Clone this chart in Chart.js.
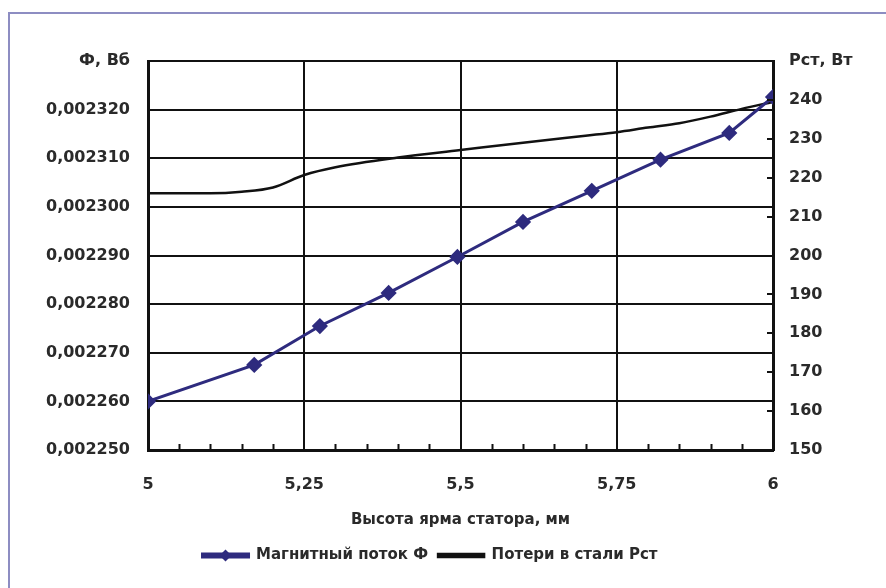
<!DOCTYPE html>
<html>
<head>
<meta charset="utf-8">
<title>Магнитный поток и потери в стали</title>
<script src="https://cdn.jsdelivr.net/npm/chart.js@4.4.1/dist/chart.umd.min.js"></script>
<style>
  html, body { margin: 0; padding: 0; background: #fff; }
  #wrap { position: relative; width: 886px; height: 588px; overflow: hidden; }
  #frame {
    position: absolute; left: 8px; top: 12px; width: 900px; height: 600px;
    border-left: 2px solid #8d8dc2; border-top: 2px solid #8d8dc2;
  }
  #fluxChart { position: absolute; left: 0; top: 0; }
</style>
</head>
<body>
<div id="wrap">
  <div id="frame"></div>
  <canvas id="fluxChart" width="886" height="588"></canvas>
</div>
<script>
/* Высота ярма статора vs магнитный поток / потери в стали
 * -------------------------------------------------------
 * values
 */
'use strict';

var fluxX = [5, 5.17, 5.275, 5.385, 5.495, 5.6, 5.71, 5.82, 5.93, 6];
var fluxY = [0.002260, 0.0022675, 0.0022755, 0.0022823, 0.0022897, 0.0022969, 0.0023033, 0.0023097, 0.0023152, 0.0023226];

var lossX = [5, 5.1, 5.15, 5.2, 5.25, 5.3, 5.4, 5.5, 5.6, 5.7, 5.75, 5.8, 5.85, 5.9, 5.95, 6];
var lossY = [216.0, 216.0, 216.4, 217.5, 220.7, 222.7, 225.2, 227.1, 229.0, 230.8, 231.7, 232.9, 234.0, 235.7, 237.7, 239.5];

var seriesNames = ['Магнитный поток Ф', 'Потери в стали Рст'];
var xTitle = 'Высота ярма статора, мм';
var leftUnit = 'Ф, Вб';
var rightUnit = 'Рст, Вт';

function pairs(xs, ys) {
  return xs.map(function (x, i) { return { x: x, y: ys[i] }; });
}

function isQuarter(v) {
  return Math.abs(v * 4 - Math.round(v * 4)) < 1e-6;
}

var fluxColor = '#2e2b7e';
var ink = '#111111';

Chart.defaults.font.family = "'DejaVu Sans', sans-serif";
Chart.defaults.font.weight = 'bold';
Chart.defaults.font.size = 16;
Chart.defaults.color = '#2a2a2a';

// small tick marks pointing into the plot (x minor steps, right axis)
var innerTicks = {
  id: 'innerTicks',
  afterDraw: function (chart) {
    var c = chart.ctx;
    var area = chart.chartArea;
    var xs = chart.scales.x;
    var ys = chart.scales.y1;
    c.save();
    c.strokeStyle = ink;
    c.lineWidth = 2;
    c.beginPath();
    xs.ticks.forEach(function (t) {
      if (isQuarter(t.value)) return;
      var px = Math.round(xs.getPixelForValue(t.value)) + 0.5;
      c.moveTo(px, area.bottom);
      c.lineTo(px, area.bottom - 6);
    });
    ys.ticks.forEach(function (t) {
      if (t.value <= ys.min || t.value >= ys.max) return;
      var py = Math.round(ys.getPixelForValue(t.value));
      c.moveTo(area.right, py);
      c.lineTo(area.right - 6, py);
    });
    c.stroke();

    // diamond on the first legend sample
    var hb = chart.legend && chart.legend.legendHitBoxes[0];
    if (hb) {
      var bw = chart.legend.options.labels.boxWidth;
      var cx = hb.left + bw / 2;
      var cy = hb.top + hb.height / 2;
      c.fillStyle = fluxColor;
      c.beginPath();
      c.moveTo(cx, cy - 6);
      c.lineTo(cx + 6, cy);
      c.lineTo(cx, cy + 6);
      c.lineTo(cx - 6, cy);
      c.closePath();
      c.fill();
    }
    c.restore();
  }
};

new Chart(document.getElementById('fluxChart'), {
  type: 'line',
  data: {
    datasets: [
      {
        label: seriesNames[0],
        data: pairs(fluxX, fluxY),
        yAxisID: 'y',
        borderColor: fluxColor,
        backgroundColor: fluxColor,
        borderWidth: 3,
        pointStyle: 'rectRot',
        pointRadius: 6,
        pointBackgroundColor: fluxColor,
        pointBorderColor: fluxColor,
        tension: 0
      },
      {
        label: seriesNames[1],
        data: pairs(lossX, lossY),
        yAxisID: 'y1',
        borderColor: ink,
        backgroundColor: ink,
        borderWidth: 2.5,
        pointRadius: 0,
        cubicInterpolationMode: 'monotone'
      }
    ]
  },
  options: {
    responsive: false,
    animation: false,
    layout: { padding: { top: 61, left: 0, right: 26, bottom: 15 } },
    plugins: {
      tooltip: { enabled: false },
      legend: {
        position: 'bottom',
        labels: {
          boxWidth: 46,
          boxHeight: 3,
          padding: 10,
          color: '#2a2a2a',
          font: { size: 15, weight: 'bold' }
        }
      }
    },
    scales: {
      x: {
        type: 'linear',
        min: 5,
        max: 6,
        afterFit: function (s) { s.height = 88; },
        ticks: {
          stepSize: 0.05,
          autoSkip: false,
          maxRotation: 0,
          padding: 25,
          callback: function (v) {
            return isQuarter(v) ? String(Math.round(v * 100) / 100).replace('.', ',') : '';
          }
        },
        grid: {
          drawTicks: false,
          lineWidth: 2,
          color: function (ctx) {
            return ctx.tick && isQuarter(ctx.tick.value) ? ink : 'rgba(0,0,0,0)';
          }
        },
        border: { color: ink, width: 3 },
        title: {
          display: true,
          text: xTitle,
          color: '#2a2a2a',
          font: { size: 15, weight: 'bold' },
          padding: { top: 0, bottom: 9 }
        }
      },
      y: {
        position: 'left',
        min: 0.00225,
        max: 0.00233,
        afterFit: function (s) { s.width = 148; },
        ticks: {
          stepSize: 0.00001,
          padding: 18,
          callback: function (v) {
            if (Math.abs(v - 0.00233) < 1e-9) return leftUnit;
            return v.toFixed(6).replace('.', ',');
          }
        },
        grid: { drawTicks: false, lineWidth: 2, color: ink },
        border: { color: ink, width: 3 }
      },
      y1: {
        position: 'right',
        min: 150,
        max: 250,
        afterFit: function (s) { s.width = 87; },
        ticks: {
          stepSize: 10,
          padding: 16,
          callback: function (v) {
            return v === 250 ? rightUnit : String(v);
          }
        },
        grid: { drawOnChartArea: false, drawTicks: false },
        border: { color: ink, width: 3 }
      }
    }
  },
  plugins: [innerTicks]
});
</script>
</body>
</html>
